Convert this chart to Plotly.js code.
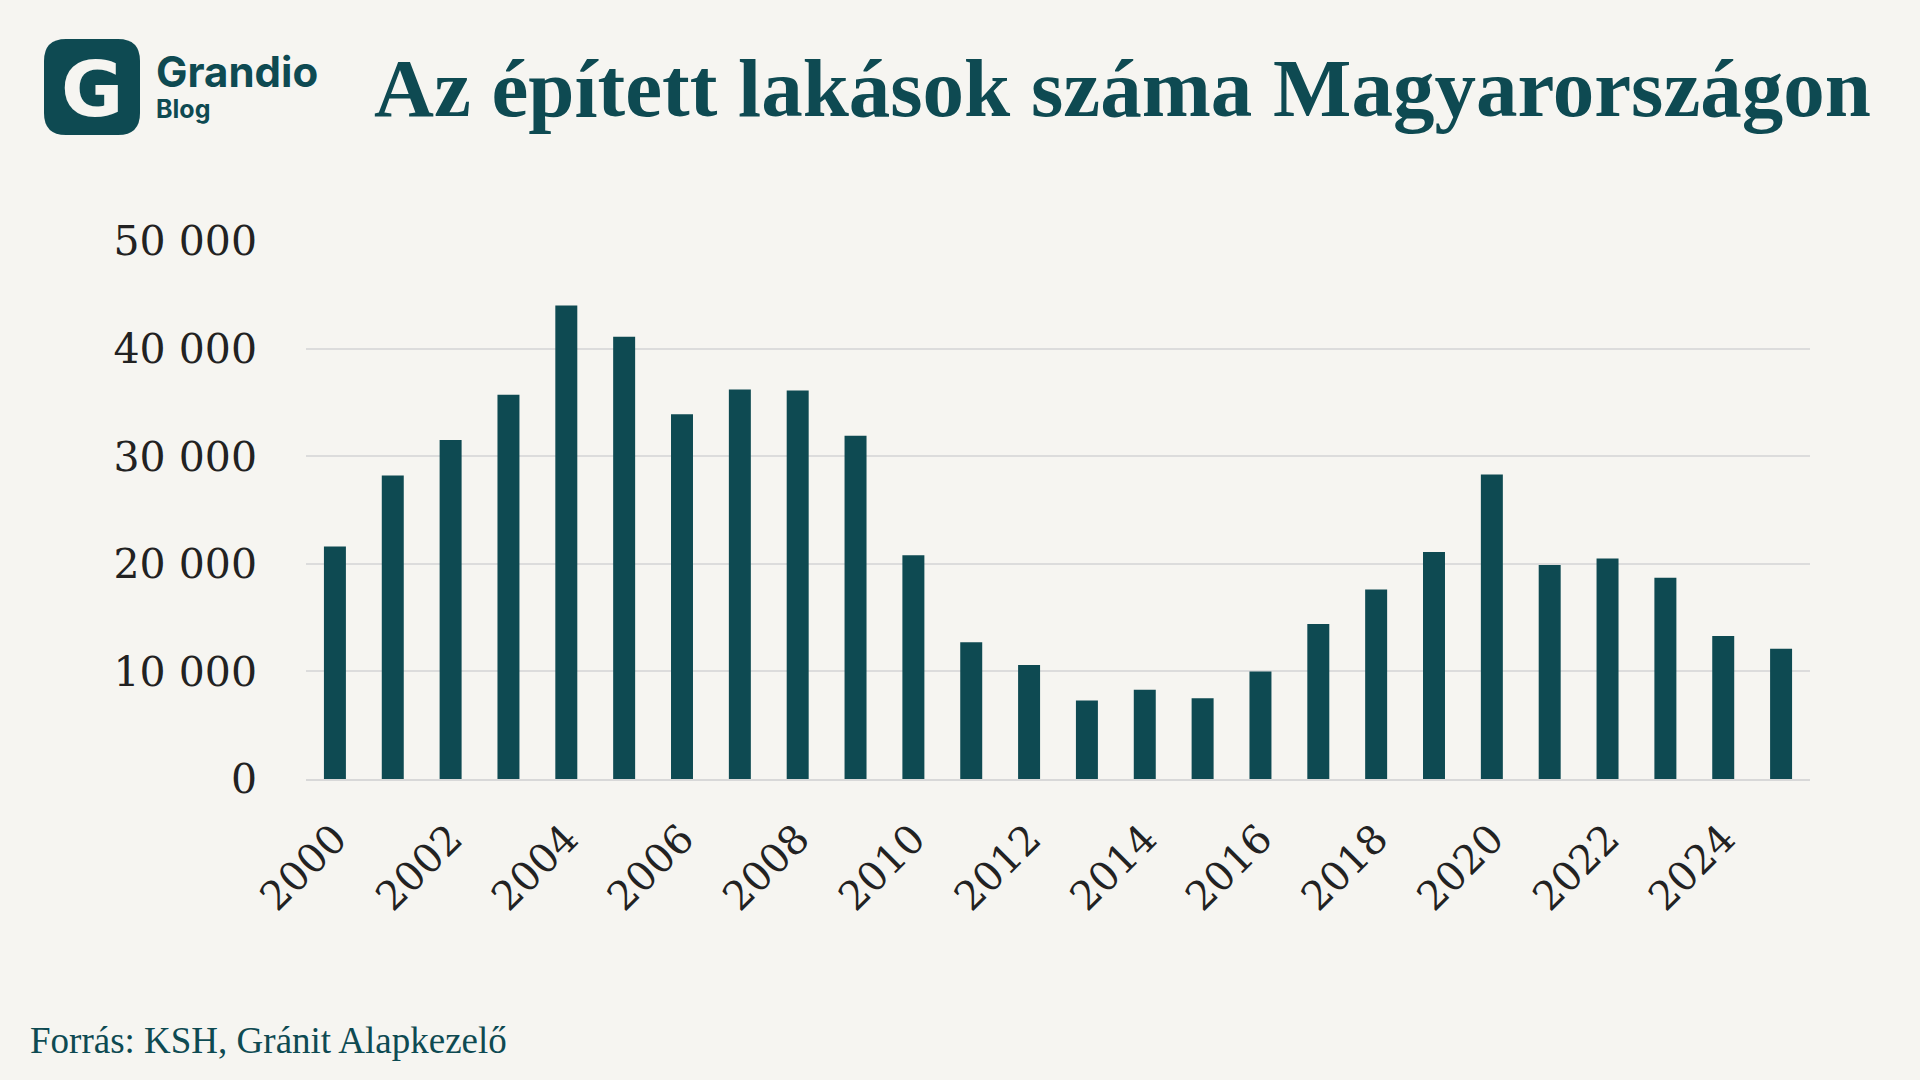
<!DOCTYPE html>
<html><head><meta charset="utf-8">
<script src="https://cdn.plot.ly/plotly-3.0.1.min.js"></script>
<style>body{margin:0;background:#f6f5f1}</style>
</head><body>
<div id="chart" style="width:1920px;height:1080px"></div>
<script>
const years = ['2000','2001','2002','2003','2004','2005','2006','2007','2008','2009','2010','2011','2012','2013','2014','2015','2016','2017','2018','2019','2020','2021','2022','2023','2024','2025']
const built = [21600,28200,31500,35700,44000,41100,33900,36200,36100,31900,20800,12700,10600,7300,8300,7500,10000,14400,17600,21100,28300,19900,20500,18700,13300,12100]
const yTicks = [0,10000,20000,30000,40000,50000]
const yTickText = ['0','10 000','20 000','30 000','40 000','50 000']
const dark = '#0e4a52'

// page pixel -> paper coordinates
const L = 306, T = 241, W = 1504, H = 538
const px = x => (x - L) / W
const py = y => (T + H - y) / H

function roundedRect(x0, y0, x1, y1, r) {
    return 'M' + px(x0 + r) + ',' + py(y0) + ' L' + px(x1 - r) + ',' + py(y0) +
        ' Q' + px(x1) + ',' + py(y0) + ' ' + px(x1) + ',' + py(y0 + r) +
        ' L' + px(x1) + ',' + py(y1 - r) + ' Q' + px(x1) + ',' + py(y1) + ' ' + px(x1 - r) + ',' + py(y1) +
        ' L' + px(x0 + r) + ',' + py(y1) + ' Q' + px(x0) + ',' + py(y1) + ' ' + px(x0) + ',' + py(y1 - r) +
        ' L' + px(x0) + ',' + py(y0 + r) + ' Q' + px(x0) + ',' + py(y0) + ' ' + px(x0 + r) + ',' + py(y0) + ' Z'
}

const trace = {
    x: years, y: built, type: 'bar',
    marker: {color: dark}, width: 0.38
}

function note(text, x, y, font, xanchor = 'left') {
    return {text: text, xref: 'paper', yref: 'paper', x: px(x), y: py(y), xanchor: xanchor, yanchor: 'middle',
        showarrow: false, font: font}
}

const layout = {
    width: 1920, height: 1080,
    paper_bgcolor: '#f6f5f1', plot_bgcolor: '#f6f5f1',
    margin: {l: L, r: 1920 - L - W, t: T, b: 1080 - T - H},
    showlegend: false,
    font: {family: 'DejaVu Serif, serif', color: '#222'},
    xaxis: {
        type: 'category', tickangle: -45, tickvals: years.filter((y, i) => i % 2 == 0),
        tickfont: {size: 40, color: '#222'}, showgrid: false, zeroline: false,
        showline: true, linecolor: '#d8d8d8', linewidth: 2, ticks: '', ticklabelstandoff: 18
    },
    yaxis: {
        range: [0, 50000], tickvals: yTicks, ticktext: yTickText,
        tickfont: {size: 41, color: '#222'}, gridcolor: '#dcdcdc', gridwidth: 2,
        zeroline: false, ticklabelstandoff: 48
    },
    shapes: [{
        type: 'path', xref: 'paper', yref: 'paper', layer: 'above',
        path: roundedRect(44, 39, 140, 135, 22),
        fillcolor: dark, line: {width: 0}
    }],
    annotations: [
        note('<b>G</b>', 92, 90, {family: 'DejaVu Sans', size: 76, color: '#f6f5f1'}, 'center'),
        note('<b>Grandio</b>', 154, 71, {family: 'Inter, DejaVu Sans', size: 42, color: dark}),
        note('<b>Blog</b>', 154, 109, {family: 'Inter, DejaVu Sans', size: 25, color: dark}),
        note('<b>Az épített lakások száma Magyarországon</b>', 372, 88,
            {family: 'Liberation Serif', size: 83, color: dark}),
        note('Forrás: KSH, Gránit Alapkezelő', 28, 1040, {family: 'Liberation Serif', size: 37, color: dark})
    ]
}

Plotly.newPlot('chart', [trace], layout, {displayModeBar: false})
</script>
</body></html>
